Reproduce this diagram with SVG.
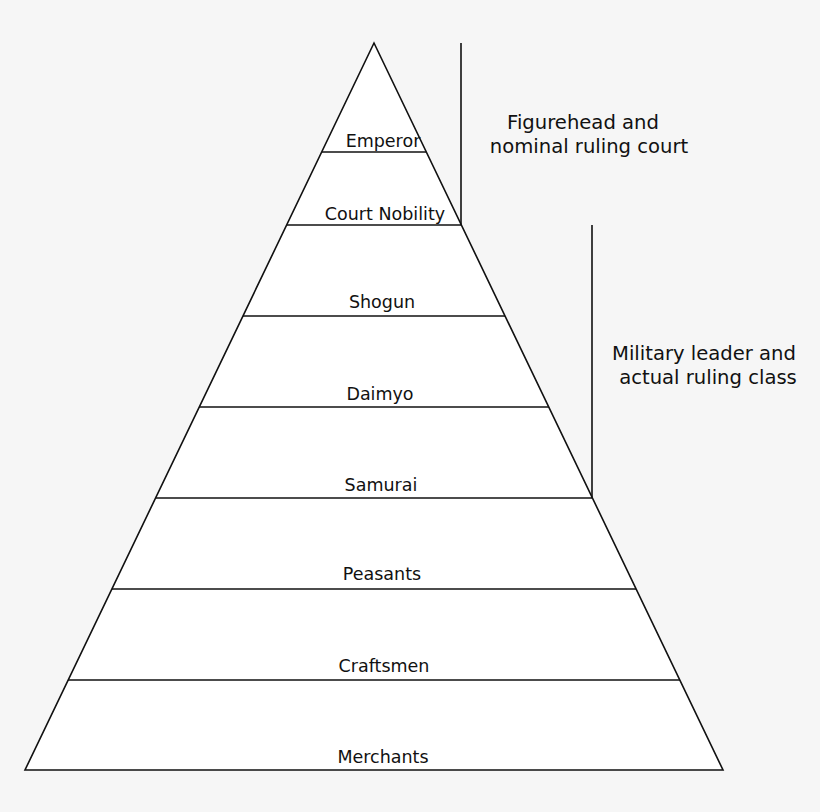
<svg xmlns="http://www.w3.org/2000/svg" width="820" height="812" viewBox="0 0 820 812">
<style>
.ln{stroke:#111;stroke-width:1.6;fill:none}
.lbl{font-family:"DejaVu Sans",sans-serif;font-size:17.5px;fill:#111;text-anchor:middle}
.side{font-family:"DejaVu Sans",sans-serif;font-size:19.6px;fill:#111;text-anchor:middle}
</style>
<rect width="820" height="812" fill="#f6f6f6"/>
<g id="pyramid">
<polygon points="374,43 723,770 25,770" fill="#fff" stroke="#111" stroke-width="1.6" stroke-linejoin="miter"/>
</g>
<g id="connectors">
<line class="ln" x1="322" y1="152" x2="426" y2="152"/>
<line class="ln" x1="287" y1="225" x2="461" y2="225"/>
<line class="ln" x1="243" y1="316" x2="505" y2="316"/>
<line class="ln" x1="199" y1="407" x2="549" y2="407"/>
<line class="ln" x1="156" y1="498" x2="592" y2="498"/>
<line class="ln" x1="112" y1="589" x2="636" y2="589"/>
<line class="ln" x1="68" y1="680" x2="680" y2="680"/>
<line class="ln" x1="461" y1="43" x2="461" y2="225"/>
<line class="ln" x1="592" y1="225" x2="592" y2="498"/>
</g>
<g id="emperor"><text class="lbl" x="383" y="147">Emperor</text></g>
<g id="court-nobility"><text class="lbl" x="385" y="220">Court Nobility</text></g>
<g id="shogun"><text class="lbl" x="382" y="308">Shogun</text></g>
<g id="daimyo"><text class="lbl" x="380" y="400">Daimyo</text></g>
<g id="samurai"><text class="lbl" x="381" y="491">Samurai</text></g>
<g id="peasants"><text class="lbl" x="382" y="580">Peasants</text></g>
<g id="craftsmen"><text class="lbl" x="384" y="672">Craftsmen</text></g>
<g id="merchants"><text class="lbl" x="383" y="763">Merchants</text></g>
<g id="figurehead">
<text class="side" x="583" y="129">Figurehead and</text>
<text class="side" x="589" y="153">nominal ruling court</text>
</g>
<g id="military">
<text class="side" x="704" y="360">Military leader and</text>
<text class="side" x="708" y="384">actual ruling class</text>
</g>
</svg>
